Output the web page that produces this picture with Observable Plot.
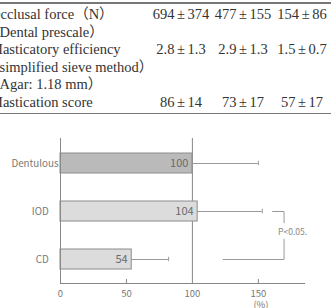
<!DOCTYPE html>
<html>
<head>
<meta charset="utf-8">
<script src="https://cdn.jsdelivr.net/npm/d3@7"></script>
<script src="https://cdn.jsdelivr.net/npm/@observablehq/plot@0.6"></script>
<style>
  html, body { margin: 0; padding: 0; background: #fff; }
  #page { position: relative; width: 331px; height: 308px; overflow: hidden; background: #fff; }
  #table { position: absolute; left: 0; top: 0; width: 331px; height: 118px;
           font-family: "Liberation Serif", "Times New Roman", "Noto Sans CJK JP", serif;
           font-size: 14.5px; color: #333; }
  .rule { position: absolute; left: 0; width: 331px; height: 1.5px; background: #777; }
  .row { position: absolute; left: 0; width: 331px; height: 17.5px; line-height: 17.5px; white-space: nowrap; }
  .lab { position: absolute; left: -10px; }
  .num { position: absolute; width: 80px; margin-left: -40px; text-align: center; word-spacing: -1px; }
  #chart { position: absolute; left: 0; top: 120px; }
</style>
</head>
<body>
<div id="page">
  <div id="table"></div>
  <div id="chart"></div>
</div>
<script>
// ---- table data ----
const rowLabels = ["Occlusal force（N）", "（Dental prescale）", "Masticatory efficiency",
                   "（simplified sieve method）", "（Agar: 1.18 mm）", "Mastication score"];
const colDentulous = ["694 ± 374", "", "2.8 ± 1.3", "", "", "86 ± 14"];
const colIOD       = ["477 ± 155", "", "2.9 ± 1.3", "", "", "73 ± 17"];
const colCD        = ["154 ± 86",  "", "1.5 ± 0.7", "", "", "57 ± 17"];

// ---- chart data ----
const categories = ["Dentulous", "IOD", "CD"];
const means = [100, 104, 54];
const upper = [150, 153, 82];
const barFills = ["#bababa", "#dcdcdc", "#dcdcdc"];
const xTicks = [0, 50, 100, 150];
const unitLabel = ["(%)"];
const pLabel = ["P<0.05."];

// build table
const table = document.getElementById("table");
const topRule = document.createElement("div");
topRule.className = "rule"; topRule.style.top = "2px"; table.appendChild(topRule);
const botRule = document.createElement("div");
botRule.className = "rule"; botRule.style.top = "112.5px"; table.appendChild(botRule);
const colCenters = [181, 243, 302];
rowLabels.forEach((lab, i) => {
  const row = document.createElement("div");
  row.className = "row";
  row.style.top = (6.2 + i * 17.5) + "px";
  const l = document.createElement("span");
  l.className = "lab"; l.textContent = lab;
  if (lab.startsWith("（")) l.style.left = "-15px";
  row.appendChild(l);
  [colDentulous, colIOD, colCD].forEach((col, j) => {
    const s = document.createElement("span");
    s.className = "num"; s.style.left = colCenters[j] + "px"; s.textContent = col[i];
    row.appendChild(s);
  });
  table.appendChild(row);
});

const data = categories.map((c, i) => ({cat: c, mean: means[i], upper: upper[i], fill: barFills[i]}));

const chart = Plot.plot({
  width: 331,
  height: 188,
  marginLeft: 60,
  marginRight: 27,
  marginTop: 18,
  marginBottom: 25,
  style: {fontFamily: "'Noto Sans CJK JP', 'Liberation Sans', sans-serif", fontSize: "10px", color: "#777", background: "#fff"},
  x: {domain: [0, 185], label: null},
  y: {domain: categories, paddingInner: 0.59, paddingOuter: 0.295, label: null},
  marks: [
    Plot.ruleX([100], {stroke: "#888", strokeWidth: 1}),
    Plot.ruleY(data, {y: "cat", x1: "mean", x2: "upper", stroke: "#999", strokeWidth: 1}),
    Plot.tickX(data, {x: "upper", y: "cat", stroke: "#999", strokeWidth: 1, insetTop: 7.8, insetBottom: 7.8}),
    Plot.barX(data, {y: "cat", x: "mean", fill: "fill", stroke: "#8c8c8c", strokeWidth: 1}),
    Plot.text(data, {y: "cat", x: "mean", text: d => String(d.mean), textAnchor: "end", dx: -4, fontSize: 11, fill: "#6a6a6a"}),
    // significance bracket between IOD and CD
    Plot.line([{x: 160.8, y: "IOD"}, {x: 169.5, y: "IOD"}, {x: 169.5, y: "CD"}, {x: 123.3, y: "CD"}],
      {x: "x", y: "y", stroke: "#999", strokeWidth: 1, curve: "linear"}),
    Plot.text(pLabel, {x: 165, y: () => "IOD", dy: 21, text: d => d, textAnchor: "start", fontSize: 8.5, fill: "#888", stroke: "white", strokeWidth: 11}),
    Plot.ruleX([0], {stroke: "#888", strokeWidth: 1}),
    Plot.frame({anchor: "bottom", stroke: "#888"}),
    Plot.axisX({ticks: xTicks, tickSize: 0, tickPadding: 7, fontSize: 9.5, fill: "#777", label: null}),
    Plot.axisX({ticks: [50, 150], tickSize: 4, dy: -4, stroke: "#888", fill: "none", label: null}),
    Plot.axisY({tickSize: 0, tickPadding: 2, fontSize: 9.8, fill: "#777", label: null,
      tickFormat: d => d === "Dentulous" ? d : d + "\u3000"}),
    Plot.text(unitLabel, {x: 152, frameAnchor: "bottom", dy: 24, text: d => d, fontSize: 9.5, fill: "#777"})
  ]
});
document.getElementById("chart").appendChild(chart);
</script>
</body>
</html>
